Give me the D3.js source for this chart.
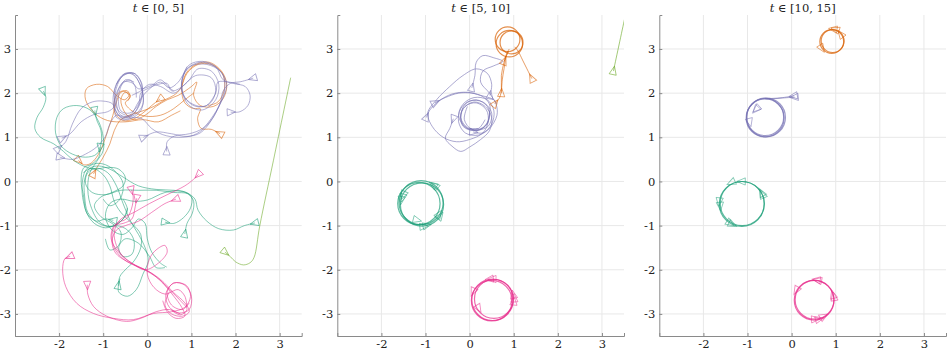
<!DOCTYPE html>
<html><head><meta charset="utf-8">
<script src="https://cdn.jsdelivr.net/npm/d3@7"></script>
<style>body{margin:0;background:#fff}svg{display:block}</style>
</head><body><svg id="c" width="947" height="352"></svg>
<script>
// ---------- labels / ticks ----------
const titles = ["[0, 5]", "[5, 10]", "[10, 15]"];
const xTicks = [-2, -1, 0, 1, 2, 3];
const yTicks = [-3, -2, -1, 0, 1, 2, 3];
const xDomain = [-3, 3.5];
const yDomain = [-3.5, 3.77];

// ---------- panel 1 : t in [0,5]  (trajectories, first point = start marker) ----------
const p1Purple = [
  [[2.40,2.34],[2.12,2.26],[1.88,2.22],[1.72,2.05],[1.66,1.8],[1.52,1.5],[1.3,1.22],[1.05,1.05],[0.7,1.0],[0.35,1.06],[0.1,1.2],[-0.12,1.42],[-0.3,1.45],[-0.55,1.42],[-0.76,1.7],[-0.74,2.1],[-0.55,2.42],[-0.3,2.45],[-0.13,2.2],[-0.15,1.85],[-0.35,1.5],[-0.6,1.5],[-0.7,1.85],[-0.55,2.25],[-0.3,2.2],[-0.25,1.9]],
  [[1.89,1.57],[2.1,1.58],[2.28,1.72],[2.33,1.95],[2.22,2.15],[1.95,2.22],[1.72,2.3],[1.55,2.6],[1.25,2.72],[0.95,2.64],[0.8,2.35],[0.8,2.0],[0.95,1.72],[1.25,1.62],[1.55,1.85],[1.62,2.2],[1.45,2.5],[1.15,2.55],[0.95,2.3],[0.75,2.12],[0.55,2.05],[0.45,2.22],[0.25,2.2],[0.0,2.1],[-0.15,2.0],[-0.2,1.75],[-0.4,1.55],[-0.6,1.6],[-0.65,1.95],[-0.5,2.3],[-0.3,2.25]],
  [[-0.09,1.0],[0.2,1.12],[0.55,1.08],[0.9,1.02],[1.2,1.1],[1.45,1.38],[1.62,1.7],[1.75,2.05],[1.72,2.4],[1.5,2.62],[1.2,2.7],[0.9,2.55],[0.78,2.25],[0.85,1.9],[1.1,1.7],[1.4,1.75],[1.55,2.05],[1.45,2.35],[1.1,2.4],[0.85,2.2],[0.6,2.0],[0.3,2.15],[0.05,2.2],[-0.15,2.05],[-0.35,1.95]],
  [[0.44,0.68],[0.45,0.9],[0.62,1.03],[0.95,1.08],[1.25,1.2],[1.5,1.5],[1.72,1.9],[1.8,2.2],[1.65,2.5],[1.35,2.65],[1.0,2.62],[0.82,2.4],[0.78,2.05],[0.95,1.8],[1.3,1.7],[1.55,2.0],[1.6,2.25],[1.85,2.25],[2.1,2.2]],
  [[-1.94,0.98],[-1.75,1.08],[-1.5,1.35],[-1.2,1.52],[-0.9,1.58],[-0.75,1.7],[-0.72,2.05],[-0.55,2.4],[-0.3,2.45],[-0.12,2.2],[-0.15,1.8],[-0.35,1.5],[-0.6,1.45],[-0.75,1.75],[-0.62,2.15],[-0.4,2.3],[-0.2,2.1],[0.1,2.18],[0.3,2.3],[0.5,2.12],[0.6,2.05]],
  [[-1.98,0.55],[-1.7,0.5],[-1.4,0.62],[-1.15,0.78],[-0.95,1.02],[-0.85,1.3],[-0.7,1.5],[-0.5,1.45],[-0.3,1.5],[-0.1,1.75],[-0.15,2.15],[-0.35,2.45],[-0.6,2.35],[-0.75,2.0],[-0.65,1.6],[-0.4,1.5],[-0.2,1.8],[0.0,2.05],[0.3,2.25],[0.5,2.12],[0.7,2.25],[0.9,2.6]],
  [[-2.02,0.74],[-1.85,0.9],[-1.7,1.3],[-1.5,1.65],[-1.25,1.8],[-1.0,1.82],[-0.78,1.75],[-0.7,1.45],[-0.45,1.4],[-0.15,1.6],[-0.1,2.0],[-0.3,2.4],[-0.5,2.45],[-0.7,2.2]]
];
const p1Orange = [
  [[1.65,1.08],[1.45,1.18],[1.22,1.2],[1.14,1.42],[1.2,1.65],[1.05,1.65],[0.85,1.78],[0.78,2.1],[0.88,2.45],[1.1,2.65],[1.4,2.7],[1.68,2.5],[1.8,2.2],[1.72,1.88],[1.5,1.7],[1.2,1.72],[1.05,1.95],[1.12,2.25],[1.0,2.15],[0.7,1.95],[0.45,1.85],[0.2,1.7],[-0.05,1.5],[-0.3,1.4],[-0.5,1.55],[-0.6,1.85],[-0.5,2.02],[-0.38,1.95],[-0.45,1.82]],
  [[0.29,1.87],[0.1,1.72],[-0.1,1.55],[-0.3,1.42],[-0.55,1.38],[-0.75,1.6],[-0.7,1.95],[-0.55,2.05],[-0.42,1.95],[-0.52,1.85],[-0.7,1.95],[-0.9,2.15],[-1.15,2.2],[-1.38,2.1],[-1.4,1.85],[-1.2,1.55],[-0.9,1.38],[-0.5,1.35],[-0.1,1.4],[0.25,1.35],[0.55,1.5],[0.75,1.6]],
  [[-1.56,0.48],[-1.45,0.38],[-1.3,0.4],[-1.15,0.55],[-1.0,0.85],[-0.88,1.2],[-0.78,1.5],[-0.7,1.8],[-0.6,2.02],[-0.45,2.05],[-0.4,1.9],[-0.5,1.78],[-0.35,1.6],[-0.05,1.48],[0.3,1.5],[0.6,1.65],[0.85,1.85],[1.05,2.0]],
  [[-1.22,0.17],[-1.15,0.3],[-1.0,0.55],[-0.85,0.85],[-0.75,1.15],[-0.6,1.4],[-0.35,1.52],[-0.1,1.6],[0.15,1.7],[0.4,1.85],[0.6,1.95],[0.75,2.1],[0.9,2.45],[1.15,2.65],[1.45,2.65],[1.7,2.45],[1.75,2.1],[1.6,1.8],[1.38,1.72]]
];
const p1Teal = [
  [[-2.36,2.05],[-2.3,1.9],[-2.36,1.68],[-2.5,1.45],[-2.55,1.2],[-2.42,1.0],[-2.12,0.85],[-1.9,0.68],[-1.7,0.5],[-1.45,0.35],[-1.2,0.28],[-0.9,0.32],[-0.65,0.28],[-0.5,0.1],[-0.55,-0.1],[-0.8,-0.25],[-1.05,-0.35],[-1.2,-0.55],[-1.05,-0.8],[-0.8,-0.95],[-0.6,-1.15],[-0.65,-1.45],[-0.85,-1.55],[-0.95,-1.3]],
  [[2.44,-0.94],[2.2,-1.0],[1.95,-1.1],[1.62,-1.07],[1.35,-0.9],[1.15,-0.65],[1.08,-0.4],[0.9,-0.26],[0.6,-0.2],[0.2,-0.18],[-0.2,-0.1],[-0.55,0.1],[-0.85,0.28],[-1.1,0.35],[-1.3,0.3],[-1.42,0.05],[-1.42,-0.35],[-1.35,-0.7],[-1.1,-0.95],[-0.8,-1.02],[-0.55,-0.85],[-0.45,-0.6]],
  [[0.85,-1.19],[0.9,-0.95],[1.02,-0.72],[1.05,-0.45],[0.92,-0.28],[0.6,-0.25],[0.2,-0.2],[-0.2,-0.2],[-0.6,-0.2],[-0.95,-0.3],[-1.25,-0.25],[-1.4,-0.05],[-1.35,0.2],[-1.15,0.3],[-0.9,0.2],[-0.7,-0.1],[-0.55,-0.5],[-0.38,-0.9],[-0.2,-1.2],[-0.05,-1.5],[0.02,-1.8],[-0.1,-2.1],[-0.25,-2.45],[-0.45,-2.6],[-0.65,-2.5],[-0.62,-2.2]],
  [[0.4,-0.92],[0.6,-0.95],[0.82,-0.82],[0.98,-0.6],[1.0,-0.35],[0.8,-0.22],[0.4,-0.25],[0.0,-0.42],[-0.3,-0.45],[-0.6,-0.4],[-0.85,-0.5],[-0.95,-0.8],[-0.8,-1.1],[-0.55,-1.2],[-0.35,-1.05],[-0.2,-0.85],[-0.05,-0.95],[0.0,-1.3],[0.1,-1.6],[0.3,-1.85],[0.44,-1.94]],
  [[-1.19,1.61],[-1.15,1.4],[-1.05,1.15],[-1.05,0.85],[-1.15,0.62],[-1.4,0.55],[-1.7,0.62],[-1.95,0.8],[-2.08,1.1],[-2.05,1.45],[-1.9,1.65],[-1.6,1.72],[-1.3,1.62],[-1.1,1.35],[-1.0,1.0],[-1.0,0.7],[-1.15,0.45],[-1.3,0.2],[-1.35,-0.1],[-1.3,-0.5],[-1.1,-0.9],[-0.85,-1.02],[-0.6,-0.9],[-0.45,-0.65],[-0.55,-0.4]],
  [[-1.07,0.78],[-1.1,0.55],[-1.25,0.4],[-1.45,0.3],[-1.5,0.0],[-1.45,-0.3],[-1.38,-0.7],[-1.2,-0.95],[-0.95,-1.05],[-0.7,-1.0],[-0.45,-1.1],[-0.3,-1.35],[-0.35,-1.65],[-0.55,-1.7],[-0.65,-1.5],[-0.5,-1.3],[-0.2,-1.4],[0.05,-1.7],[0.2,-1.95],[0.4,-1.95]],
  [[-0.66,-2.36],[-0.62,-2.15],[-0.5,-2.0],[-0.3,-1.8],[-0.15,-1.5],[-0.15,-1.2],[-0.35,-0.95],[-0.6,-0.7],[-0.75,-0.45],[-0.85,-0.1],[-1.0,0.15],[-1.25,0.3],[-1.45,0.2]],
  [[-0.77,-0.88],[-0.95,-0.85],[-1.15,-0.9],[-1.35,-0.75],[-1.45,-0.45],[-1.48,-0.1],[-1.4,0.25],[-1.2,0.4],[-0.95,0.38],[-0.7,0.2],[-0.55,-0.05],[-0.62,-0.4],[-0.85,-0.55],[-1.0,-0.4]]
];
const p1Pink = [
  [[-1.75,-1.7],[-1.87,-1.75],[-1.92,-2.0],[-1.85,-2.38],[-1.6,-2.76],[-1.22,-2.99],[-0.77,-3.1],[-0.32,-3.13],[0.14,-2.99],[0.55,-2.95],[0.85,-2.85],[0.98,-2.6],[0.88,-2.35],[0.6,-2.3],[0.45,-2.5],[0.55,-2.8],[0.8,-2.9],[0.95,-2.75]],
  [[-1.36,-2.34],[-1.35,-2.55],[-1.22,-2.83],[-0.92,-3.05],[-0.47,-3.17],[-0.15,-3.1],[0.2,-2.95],[0.5,-2.9],[0.72,-2.98],[0.95,-2.9],[1.0,-2.6],[0.85,-2.35],[0.6,-2.3],[0.42,-2.55],[0.5,-2.85],[0.75,-3.0]],
  [[1.16,0.16],[1.05,0.05],[0.85,-0.1],[0.45,-0.3],[0.05,-0.5],[-0.3,-0.7],[-0.62,-0.87],[-0.75,-1.15],[-0.7,-1.45],[-0.55,-1.7],[-0.3,-1.88],[0.0,-2.02],[0.3,-2.22],[0.6,-2.52],[0.85,-2.75],[0.95,-2.95],[0.8,-3.05],[0.55,-3.0],[0.4,-2.8],[0.5,-2.5]],
  [[-0.36,-0.19],[-0.32,-0.35],[-0.36,-0.62],[-0.48,-0.85],[-0.7,-0.95],[-0.8,-1.2],[-0.75,-1.5],[-0.55,-1.75],[-0.25,-1.92],[0.05,-2.05],[0.35,-2.3],[0.6,-2.6],[0.78,-2.85],[0.85,-3.05],[0.65,-3.1],[0.45,-2.95],[0.35,-2.7]],
  [[0.65,-0.4],[0.4,-0.5],[0.1,-0.7],[-0.2,-0.9],[-0.5,-1.0],[-0.7,-1.1],[-0.8,-1.35],[-0.72,-1.62],[-0.45,-1.82],[-0.1,-1.98],[0.25,-2.2],[0.5,-2.45],[0.75,-2.7],[0.9,-2.9],[0.75,-3.02],[0.55,-2.92]],
  [[-0.24,-0.38],[-0.28,-0.6],[-0.35,-0.85],[-0.55,-0.95],[-0.75,-1.0],[-0.82,-1.3],[-0.65,-1.6],[-0.35,-1.85],[-0.05,-2.0],[0.25,-1.85],[0.45,-1.6],[0.4,-1.45],[0.2,-1.55],[0.05,-1.75],[0.0,-2.1],[0.15,-2.4],[0.4,-2.55],[0.7,-2.45],[0.85,-2.6],[0.9,-2.85]]
];
const p1Lime = [
  [[1.76,-1.6],[1.88,-1.7],[2.0,-1.82],[2.18,-1.89],[2.33,-1.84],[2.42,-1.72],[2.55,-1.0],[2.86,0.48],[3.25,2.35]]
];

// ---------- panel 2 : t in [5,10] ----------
const p2Purple = [
  [[-0.79,1.78],[-0.55,1.9],[-0.25,2.0],[0.05,2.0],[0.3,1.92],[0.45,1.75],[0.45,1.5],[0.35,1.25],[0.1,1.15],[-0.15,1.25],[-0.2,1.5],[-0.1,1.75],[0.15,1.85],[0.4,1.7],[0.45,1.45],[0.3,1.22],[0.05,1.18],[-0.12,1.4],[-0.05,1.7]],
  [[0.05,2.12],[0.12,2.4],[0.15,2.7],[0.3,2.85],[0.55,2.8],[0.75,2.72],[0.55,2.62],[0.3,2.5],[0.25,2.25],[0.45,2.0],[0.6,1.75],[0.62,1.5],[0.45,1.2],[0.2,1.05],[-0.1,1.1],[-0.25,1.35],[-0.2,1.65],[0.0,1.82],[0.3,1.8],[0.5,1.55],[0.42,1.25],[0.15,1.15]],
  [[-0.37,1.42],[-0.45,1.2],[-0.55,0.98],[-0.4,0.8],[-0.2,0.68],[0.0,0.78],[0.25,0.95],[0.45,1.15],[0.5,1.45],[0.35,1.7],[0.1,1.8],[-0.15,1.65],[-0.2,1.4],[-0.05,1.2],[0.2,1.2],[0.35,1.4]],
  [[0.46,1.95],[0.5,2.2],[0.4,2.45],[0.15,2.55],[-0.15,2.4],[-0.45,2.15],[-0.75,1.85],[-0.95,1.55],[-0.85,1.25],[-0.6,1.0],[-0.3,0.9],[0.0,0.95],[0.3,1.1],[0.42,1.35],[0.38,1.62],[0.15,1.78],[-0.1,1.7],[-0.2,1.45],[-0.05,1.22],[0.2,1.2]],
  [[0.08,1.12],[0.3,1.1],[0.5,1.3],[0.55,1.6],[0.4,1.85],[0.1,1.9],[-0.15,1.75],[-0.25,1.5],[-0.12,1.25],[0.15,1.15],[0.4,1.3],[0.45,1.6]],
  [[-0.98,1.45],[-0.9,1.62],[-0.7,1.82],[-0.4,1.98],[-0.05,2.02],[0.25,1.95],[0.55,1.85],[0.62,1.75]]
];
const p2Orange = [
  [[1.41,2.33],[1.3,2.55],[1.2,2.75],[1.1,2.95],[1.02,3.05]],
  [[0.57,1.76],[0.68,1.9],[0.72,2.1],[0.72,2.4],[0.78,2.7],[0.85,2.92],[0.9,3.0]],
  [[0.72,2.0],[0.74,2.3],[0.78,2.55],[0.82,2.8],[0.88,2.95]],
  [[0.78,2.72],[0.82,2.82],[0.88,2.95]]
];
const p2OrangeCircles = [[0.86,3.22,0.28],[0.95,3.15,0.26],[0.9,3.12,0.3]];
const p2TealCircles = [[-1.1,-0.48,0.5],[-1.15,-0.5,0.48],[-1.08,-0.52,0.49]];
const p2TealMarks = [[-1.5,-0.3],[-1.55,-0.42],[-1.52,-0.36],[-0.82,-0.08],[-0.78,-0.1],[-0.67,-0.79],[-0.7,-0.75],[-1.05,-1.02],[-1.2,-0.87],[-0.98,-1.0]];
const p2PinkCircles = [[0.52,-2.68,0.47],[0.55,-2.66,0.44],[0.5,-2.7,0.46]];
const p2PinkMarks = [[0.46,-2.21],[0.52,-2.21],[0.08,-2.49],[0.2,-2.87],[0.99,-2.57],[1.0,-2.72],[1.01,-2.65]];
const p2Lime = [[[3.26,2.5],[3.5,3.62],[3.55,3.85]]];

// ---------- panel 3 : t in [10,15] ----------
const p3Purple = [
  [[0.07,1.91],[-0.2,1.89],[-0.45,1.87],[-0.6,1.87]],
  [[0.05,1.94],[-0.2,1.9],[-0.45,1.88],[-0.6,1.88]]
];
const p3PurpleCircles = [[-0.6,1.44,0.43],[-0.6,1.46,0.42],[-0.58,1.45,0.44]];
const p3PurpleMarks = [[-0.79,1.65],[-0.81,1.63],[-0.95,1.35]];
const p3OrangeCircles = [[0.91,3.17,0.27],[0.93,3.18,0.26]];
const p3OrangeMarks = [[1.0,3.44],[0.95,3.45],[1.12,3.33],[0.68,3.02]];
const p3TealCircles = [[-1.13,-0.51,0.51],[-1.12,-0.5,0.5]];
const p3TealMarks = [[-1.36,-0.02],[-1.13,0.0],[-0.68,-0.26],[-0.66,-0.3],[-1.64,-0.45],[-1.62,-0.55],[-1.4,-0.94],[-1.35,-0.97]];
const p3PinkCircles = [[0.51,-2.69,0.45],[0.52,-2.68,0.44]];
const p3PinkMarks = [[0.57,-2.23],[0.6,-2.24],[0.94,-2.57],[0.96,-2.62],[0.11,-2.46],[0.53,-3.12],[0.72,-3.06],[0.62,-3.12]];

// ---------- drawing ----------
const C = {teal:"#1b9e77", orange:"#d95f02", purple:"#7570b3", pink:"#e7298a", lime:"#66a61e"};
const panels = [
  {left:15, title:titles[0],
   traj:[["orange",p1Orange],["purple",p1Purple],["teal",p1Teal],["pink",p1Pink],["lime",p1Lime]],
   circ:[], marks:[]},
  {left:337.3, title:titles[1],
   traj:[["purple",p2Purple],["orange",p2Orange],["lime",p2Lime]],
   circ:[["orange",p2OrangeCircles],["teal",p2TealCircles],["pink",p2PinkCircles]],
   marks:[["teal",p2TealMarks,p2TealCircles[0]],["pink",p2PinkMarks,p2PinkCircles[0]]]},
  {left:659.3, title:titles[2],
   traj:[["purple",p3Purple]],
   circ:[["purple",p3PurpleCircles],["orange",p3OrangeCircles],["teal",p3TealCircles],["pink",p3PinkCircles]],
   marks:[["purple",p3PurpleMarks,p3PurpleCircles[0]],["orange",p3OrangeMarks,p3OrangeCircles[0]],["teal",p3TealMarks,p3TealCircles[0]],["pink",p3PinkMarks,p3PinkCircles[0]]]}
];
const PW = 286.7, PT = 15, PB = 336;
const svg = d3.select("#c");
const tri = "M5,0L-3.5,3.6L-3.5,-3.6Z";
const FONT = "'DejaVu Serif','Liberation Serif',serif";

panels.forEach((p, i) => {
  const x = d3.scaleLinear().domain(xDomain).range([p.left, p.left + PW]);
  const y = d3.scaleLinear().domain(yDomain).range([PB, PT]);
  const g = svg.append("g");
  const cid = "clip" + i;
  svg.append("clipPath").attr("id", cid).append("rect")
    .attr("x", p.left).attr("y", PT).attr("width", PW).attr("height", PB - PT);

  // grid
  g.append("g").selectAll("line").data(xTicks).join("line")
    .attr("x1", d => x(d)).attr("x2", d => x(d)).attr("y1", PT).attr("y2", PB)
    .attr("stroke", "#e8e8e8").attr("stroke-width", 1);
  g.append("g").selectAll("line").data(yTicks).join("line")
    .attr("y1", d => y(d)).attr("y2", d => y(d)).attr("x1", p.left).attr("x2", p.left + PW)
    .attr("stroke", "#e8e8e8").attr("stroke-width", 1);

  // axes
  const ax = g.append("g").attr("transform", `translate(0,${PB})`)
    .call(d3.axisBottom(x).tickValues(xTicks).tickSize(-3).tickPadding(4).tickFormat(d => String(d)));
  const ay = g.append("g").attr("transform", `translate(${p.left},0)`)
    .call(d3.axisLeft(y).tickValues(yTicks).tickSize(-3).tickPadding(4).tickFormat(d => String(d)));
  [ax, ay].forEach(a => {
    a.attr("font-family", FONT).attr("font-size", 11.5);
    a.select(".domain").attr("stroke", "#8a8a8a").attr("stroke-width", 1);
    a.selectAll(".tick line").attr("stroke", "#8a8a8a");
    a.selectAll("text").attr("font-family", FONT).attr("font-size", 11.5).attr("fill", "#222");
  });

  // title
  const t = g.append("text").attr("x", p.left + PW / 2).attr("y", 11.5).attr("text-anchor", "middle")
    .attr("font-family", FONT).attr("font-size", 11.5).attr("fill", "#222");
  t.append("tspan").attr("font-style", "italic").text("t");
  t.append("tspan").text(" \u2208 " + p.title);

  const plot = g.append("g").attr("clip-path", `url(#${cid})`);
  const line = d3.line().x(d => x(d[0])).y(d => y(d[1])).curve(d3.curveCatmullRom.alpha(0.5));

  // circles
  p.circ.forEach(([col, arr]) => {
    plot.append("g").selectAll("circle").data(arr).join("circle")
      .attr("cx", d => x(d[0])).attr("cy", d => y(d[1]))
      .attr("r", d => x(d[2]) - x(0))
      .attr("fill", "none").attr("stroke", C[col]).attr("stroke-width", 1.2).attr("stroke-opacity", 0.7);
  });

  // trajectories + start markers
  p.traj.forEach(([col, arr]) => {
    const gg = plot.append("g");
    gg.selectAll("path.tr").data(arr).join("path").attr("class", "tr")
      .attr("d", line).attr("fill", "none").attr("stroke", C[col])
      .attr("stroke-width", 1).attr("stroke-opacity", i === 0 ? 0.55 : 0.6);
    gg.selectAll("path.mk").data(arr).join("path").attr("class", "mk")
      .attr("d", tri)
      .attr("transform", d => {
        const a = Math.atan2(y(d[1][1]) - y(d[0][1]), x(d[1][0]) - x(d[0][0])) * 180 / Math.PI;
        return `translate(${x(d[0][0])},${y(d[0][1])}) rotate(${a})`;
      })
      .attr("fill", "none").attr("stroke", C[col]).attr("stroke-width", 0.9).attr("stroke-opacity", 0.6);
  });

  // markers on circles (heading tangent, counter-clockwise)
  p.marks.forEach(([col, arr, c]) => {
    plot.append("g").selectAll("path").data(arr).join("path")
      .attr("d", tri)
      .attr("transform", d => {
        const tx = -(d[1] - c[1]), ty = d[0] - c[0];
        const a = Math.atan2(-ty, tx) * 180 / Math.PI;
        return `translate(${x(d[0])},${y(d[1])}) rotate(${a})`;
      })
      .attr("fill", "none").attr("stroke", C[col]).attr("stroke-width", 0.9).attr("stroke-opacity", 0.55);
  });
});
</script>
</body></html>
